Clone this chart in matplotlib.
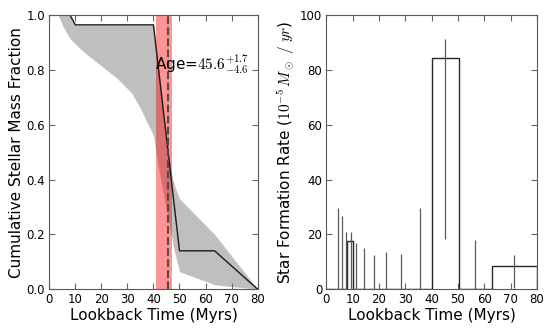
import numpy as np
import matplotlib
matplotlib.use('Agg')
import matplotlib.pyplot as plt

plt.rcParams['mathtext.fontset'] = 'cm'
plt.rcParams['font.family'] = 'DejaVu Sans'

# cumulative mass fraction (best fit line)
cum_t = [0, 8, 10, 40, 50, 63.5, 80]
cum_f = [1.0, 1.0, 0.965, 0.965, 0.14, 0.14, 0.0]

# uncertainty band
band_t = [0, 3.5, 5, 7, 8, 10, 14, 20, 26, 31.5, 35, 38, 40, 42, 45, 47, 48, 50, 63.5, 80]
band_hi = [1.0, 1.0, 1.0, 1.0, 1.0, 0.965, 0.965, 0.965, 0.965, 0.965, 0.965, 0.965, 0.965,
           0.80, 0.55, 0.42, 0.38, 0.33, 0.20, 0.0]
band_lo = [1.0, 1.0, 0.965, 0.93, 0.915, 0.895, 0.86, 0.815, 0.77, 0.718, 0.66, 0.60, 0.56,
           0.44, 0.29, 0.19, 0.14, 0.064, 0.016, 0.0]

age = 45.6
age_err_hi = 1.7
age_err_lo = 4.6

# star formation history
sfr_edges = [0, 8.0, 10.2, 40.0, 50.3, 63.0, 80.0]
sfr_vals = [0, 17.6, 0, 84.5, 0, 8.6]

# error bars on sfr
err_x = [4.5, 6.0, 7.5, 9.3, 11.4, 14.3, 18.1, 22.8, 28.5, 35.7, 45.0, 56.6, 71.4]
err_lo = [0, 0, 0, 0, 0, 0, 0, 0, 0, 0, 18.5, 0, 0.5]
err_hi = [29.5, 26.6, 20.9, 20.9, 17.0, 15.2, 12.3, 13.5, 12.7, 29.7, 91.5, 17.9, 12.4]

fig = plt.figure(figsize=(5.54, 3.32), dpi=100)
ax1 = fig.add_axes([0.089, 0.129, 0.376, 0.825])
ax2 = fig.add_axes([0.589, 0.129, 0.380, 0.825])

# left panel
ax1.fill_between(band_t, band_lo, band_hi, color='0.75', lw=0)
ax1.plot(cum_t, cum_f, color='0.1', lw=1)
ax1.axvspan(age - age_err_lo, age + age_err_hi, color='red', alpha=0.42, lw=0)
ax1.axvline(age, color='0.3', ls='--', lw=1.5)
ax1.text(age - age_err_lo - 0.4, 0.82, r'Age=$%.1f^{+%.1f}_{-%.1f}$' % (age, age_err_hi, age_err_lo),
         fontsize=11, va='center', ha='left')
ax1.set_xlim(0, 80)
ax1.set_ylim(0, 1.0)
ax1.set_xticks(np.arange(0, 81, 10))
ax1.set_yticks(np.arange(0, 1.01, 0.2))
ax1.set_xlabel('Lookback Time (Myrs)', fontsize=11, labelpad=1)
ax1.set_ylabel('Cumulative Stellar Mass Fraction', fontsize=11, labelpad=2)

# right panel
ax2.hist(sfr_edges[:-1], bins=sfr_edges, weights=sfr_vals, histtype='step', color='0.15', lw=1)
ax2.vlines(err_x, err_lo, err_hi, color='0.35', lw=0.9)
ax2.set_xlim(0, 80)
ax2.set_ylim(0, 100)
ax2.set_xticks(np.arange(0, 81, 10))
ax2.set_yticks(np.arange(0, 101, 20))
ax2.set_xlabel('Lookback Time (Myrs)', fontsize=11, labelpad=1)
ax2.set_ylabel(r'Star Formation Rate ($10^{-5}\,M_\odot\ /\ yr$)', fontsize=11, labelpad=2)

for ax in (ax1, ax2):
    ax.tick_params(direction='in', top=True, right=True, labelsize=8.5, length=4, color='0.4', pad=3)
    for s in ax.spines.values():
        s.set_color('0.35')

fig.savefig('out.png', dpi=100)
